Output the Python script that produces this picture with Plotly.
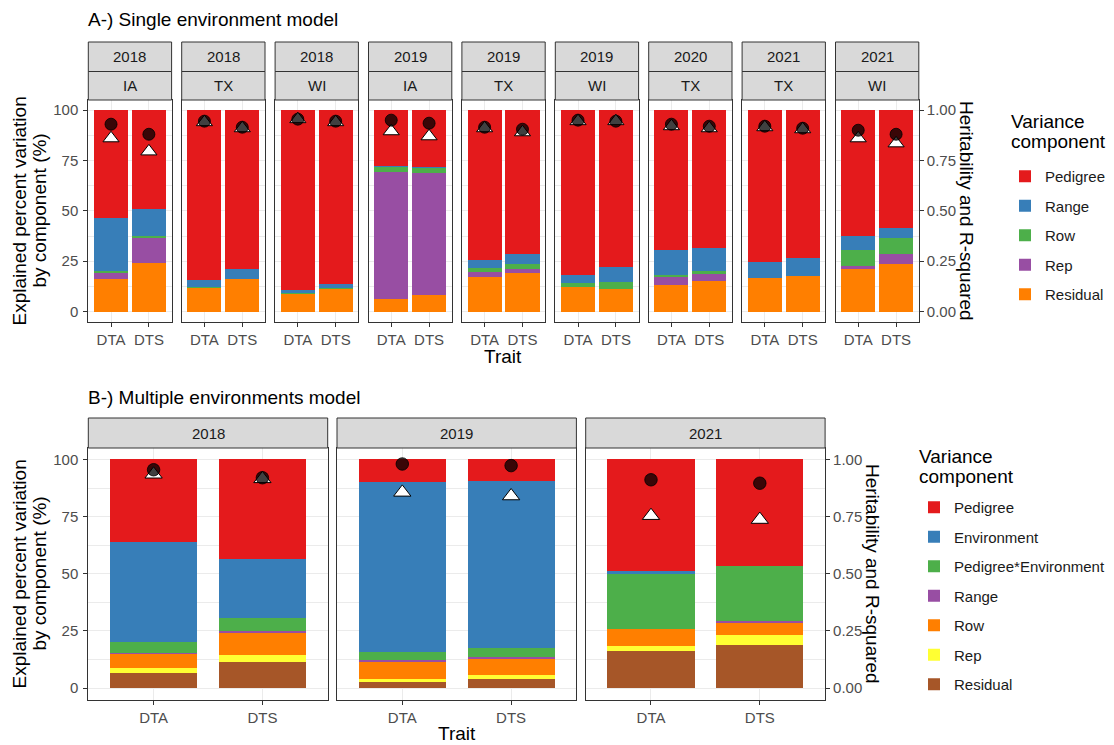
import plotly.graph_objects as go

W, H = 1114, 745
FONT = "Liberation Sans, Arial, sans-serif"

# ---------------- A-) single environment model ----------------
a_years = ["2018", "2018", "2018", "2019", "2019", "2019", "2020", "2021", "2021"]
a_sites = ["IA", "TX", "WI", "IA", "TX", "WI", "TX", "TX", "WI"]
traits = ["DTA", "DTS"]

# values per facet, ordered DTA, DTS
a_pedigree = [53.3, 49.0, 84.2, 78.7, 89.1, 86.5, 27.7, 28.3, 74.4, 71.6,
              82.0, 78.1, 69.3, 68.2, 75.2, 73.6, 62.7, 58.4]
a_range = [26.7, 13.7, 3.5, 4.9, 1.6, 2.0, 0.2, 0.2, 4.0, 4.8,
           4.0, 7.4, 12.5, 11.8, 8.0, 8.5, 6.6, 5.1]
a_row = [0.4, 0.5, 0.3, 0.1, 0.1, 0.1, 2.6, 2.5, 2.1, 2.6,
         2.0, 3.3, 1.0, 1.2, 0.1, 0.1, 8.3, 7.8]
a_rep = [3.4, 12.7, 0.0, 0.0, 0.0, 0.0, 63.2, 60.6, 2.5, 2.0,
         0.0, 0.0, 3.8, 3.5, 0.0, 0.0, 1.3, 4.9]
a_residual = [16.2, 24.1, 12.0, 16.3, 9.2, 11.4, 6.3, 8.4, 17.0, 19.0,
              12.0, 11.2, 13.4, 15.3, 16.7, 17.8, 21.1, 23.8]
a_heritability = [0.93, 0.88, 0.945, 0.915, 0.955, 0.945, 0.95, 0.935, 0.915, 0.905,
                  0.95, 0.945, 0.93, 0.92, 0.92, 0.91, 0.90, 0.88]
a_rsquared = [0.86, 0.795, 0.94, 0.91, 0.955, 0.94, 0.895, 0.87, 0.91, 0.89,
              0.945, 0.945, 0.92, 0.91, 0.915, 0.905, 0.86, 0.835]

# ---------------- B-) multiple environments model ----------------
b_years = ["2018", "2019", "2021"]
b_pedigree = [36.2, 43.4, 9.8, 9.6, 48.7, 46.7]
b_environment = [43.7, 26.0, 74.4, 72.8, 1.3, 0.0]
b_ped_env = [4.7, 5.5, 3.7, 4.0, 24.0, 24.0]
b_range = [0.5, 0.6, 0.6, 0.7, 0.0, 0.6]
b_row = [6.3, 9.9, 7.4, 7.2, 7.4, 5.6]
b_rep = [2.0, 3.0, 1.5, 1.9, 2.4, 4.2]
b_residual = [6.6, 11.6, 2.6, 3.8, 16.2, 18.9]
b_heritability = [0.955, 0.92, 0.98, 0.973, 0.911, 0.896]
b_rsquared = [0.935, 0.915, 0.856, 0.84, 0.754, 0.737]

set1 = {"red": "#E41A1C", "blue": "#377EB8", "green": "#4DAF4A", "purple": "#984EA3",
        "orange": "#FF7F00", "yellow": "#FFFF33", "brown": "#A65628"}

# stacking order: first entry sits at the bottom of each bar
a_components = [("Residual", a_residual, set1["orange"]),
                ("Rep", a_rep, set1["purple"]),
                ("Row", a_row, set1["green"]),
                ("Range", a_range, set1["blue"]),
                ("Pedigree", a_pedigree, set1["red"])]
b_components = [("Residual", b_residual, set1["brown"]),
                ("Rep", b_rep, set1["yellow"]),
                ("Row", b_row, set1["orange"]),
                ("Range", b_range, set1["purple"]),
                ("Pedigree*Environment", b_ped_env, set1["green"]),
                ("Environment", b_environment, set1["blue"]),
                ("Pedigree", b_pedigree, set1["red"])]


def fx(x):
    return x / W


def fy(y):
    return 1 - y / H


GRID = "#EBEBEB"
DARK = "#333333"
TICKTXT = dict(family=FONT, size=15, color="#4D4D4D")

# panel geometry (pixels)
top_x0, top_w, top_step = 88.3, 83.3, 93.4
top_y0, top_y1 = 100.0, 321.7
bot_x0, bot_w, bot_step = 88.3, 239.4, 248.7
bot_y0, bot_y1 = 448.0, 699.5

panels = []  # (x0, x1, y0, y1, first, last, row)
for i in range(9):
    x0 = top_x0 + i * top_step
    panels.append((x0, x0 + top_w, top_y0, top_y1, i == 0, i == 8, "a"))
for i in range(3):
    x0 = bot_x0 + i * bot_step
    panels.append((x0, x0 + bot_w, bot_y0, bot_y1, i == 0, i == 2, "b"))

fig = go.Figure()
layout = {}
shapes = []
annotations = []
NP = len(panels)

for p, (x0, x1, y0, y1, first, last, row) in enumerate(panels):
    k = p + 1
    sfx = "" if k == 1 else str(k)
    xa, ya = "x" + sfx, "y" + sfx
    ya2 = "y" + str(k + NP)

    if row == "a":
        i = p
        comps, herit, rsq, width, legend = a_components, a_heritability, a_rsquared, 0.9, "legend"
        msize_c, msize_t = 12, 14
    else:
        i = p - 9
        comps, herit, rsq, width, legend = b_components, b_heritability, b_rsquared, 0.8, "legend2"
        msize_c, msize_t = 12.5, 15
    sl = slice(2 * i, 2 * i + 2)

    n = len(comps)
    for rank, (name, vals, col) in enumerate(comps):
        fig.add_trace(go.Bar(
            x=traits, y=vals[sl], name=name, marker=dict(color=col, line=dict(width=0)),
            width=width, xaxis=xa, yaxis=ya, legend=legend,
            legendgroup=row + "_" + name, legendrank=n - rank, showlegend=(i == 0),
        ))
    fig.add_trace(go.Scatter(
        x=traits, y=rsq[sl], mode="markers", name="R-squared", showlegend=False,
        marker=dict(symbol="triangle-up", size=msize_t, color="white",
                    line=dict(color="black", width=1)),
        xaxis=xa, yaxis=ya2,
    ))
    fig.add_trace(go.Scatter(
        x=traits, y=herit[sl], mode="markers", name="Heritability", showlegend=False,
        marker=dict(symbol="circle", size=msize_c, color="rgba(0,0,0,0.75)",
                    line=dict(color="black", width=0.8)),
        xaxis=xa, yaxis=ya2,
    ))

    layout["xaxis" + sfx] = dict(
        domain=[fx(x0), fx(x1)], anchor=ya, type="category",
        categoryorder="array", categoryarray=traits, range=[-0.6, 1.6],
        showgrid=True, gridcolor=GRID, gridwidth=1.1,
        ticks="outside", ticklen=4, tickwidth=1, tickcolor=DARK, tickfont=TICKTXT,
        showline=True, linecolor=DARK, linewidth=1, mirror=True, zeroline=False,
    )
    layout["yaxis" + sfx] = dict(
        domain=[fy(y1), fy(y0)], anchor=xa, range=[-5, 105],
        tickvals=[0, 25, 50, 75, 100], showticklabels=first,
        ticks="outside" if first else "", ticklen=4, tickwidth=1, tickcolor=DARK,
        tickfont=TICKTXT, ticklabelstandoff=2,
        showgrid=True, gridcolor=GRID, gridwidth=1.1,
        minor=dict(tickvals=[12.5, 37.5, 62.5, 87.5], showgrid=True,
                   gridcolor=GRID, gridwidth=0.55),
        showline=True, linecolor=DARK, linewidth=1, mirror=True, zeroline=False,
    )
    layout["yaxis" + str(k + NP)] = dict(
        overlaying=ya, anchor=xa, side="right", range=[-0.05, 1.05],
        tickvals=[0, 0.25, 0.5, 0.75, 1.0], tickformat=".2f",
        showticklabels=last, ticks="outside" if last else "", ticklen=4,
        tickwidth=1, tickcolor=DARK, tickfont=TICKTXT,
        showgrid=False, zeroline=False, showline=False,
    )

# facet strips
STRIP = dict(type="rect", xref="paper", yref="paper", fillcolor="#D9D9D9",
             line=dict(color=DARK, width=1), layer="above")
STRIP_FONT = dict(family=FONT, size=15, color="#1A1A1A")


def note(x, y, text, font, angle=0, xanchor="center", yanchor="middle"):
    annotations.append(dict(x=fx(x), y=fy(y), text=text, showarrow=False, font=font,
                            textangle=angle, xanchor=xanchor, yanchor=yanchor,
                            xref="paper", yref="paper"))


for p in range(9):
    x0, x1 = panels[p][0], panels[p][1]
    for (s0, s1), label in (((42, 71.5), a_years[p]), ((71.5, 100), a_sites[p])):
        shapes.append(dict(STRIP, x0=fx(x0), x1=fx(x1), y0=fy(s1), y1=fy(s0)))
        note((x0 + x1) / 2, (s0 + s1) / 2, label, STRIP_FONT)
for j in range(3):
    x0, x1 = panels[9 + j][0], panels[9 + j][1]
    shapes.append(dict(STRIP, x0=fx(x0), x1=fx(x1), y0=fy(448), y1=fy(418)))
    note((x0 + x1) / 2, 433, b_years[j], STRIP_FONT)

TITLE_FONT = dict(family=FONT, size=19, color="black")
AXT_FONT = dict(family=FONT, size=19, color="black")

note(86, 20, "A-) Single environment model", TITLE_FONT, xanchor="left")
note(86, 397, "B-) Multiple environments model", TITLE_FONT, xanchor="left")
note(503, 356, "Trait", AXT_FONT)
note(457, 733, "Trait", AXT_FONT)
for yc in (211, 574):
    note(18.5, yc, "Explained percent variation", AXT_FONT, angle=-90)
    note(38.5, yc, "by component (%)", AXT_FONT, angle=-90)
note(967, 211, "Heritability and R-squared", AXT_FONT, angle=90)
note(873, 574, "Heritability and R-squared", AXT_FONT, angle=90)

# legend headings
for x, y1, y2 in ((1009, 121.5, 141.5), (917, 456.5, 476.5)):
    note(x, y1, "Variance", AXT_FONT, xanchor="left")
    note(x, y2, "component", AXT_FONT, xanchor="left")

LEG = dict(xanchor="left", yanchor="top", traceorder="grouped",
           tracegroupgap=7, bgcolor="rgba(0,0,0,0)", itemwidth=30,
           font=dict(family=FONT, size=15, color="#1A1A1A"))
layout["legend"] = dict(LEG, x=fx(1005), y=fy(160))
layout["legend2"] = dict(LEG, x=fx(914), y=fy(491))

fig.update_layout(
    width=W, height=H, autosize=False,
    margin=dict(l=0, r=0, t=0, b=0, autoexpand=False),
    paper_bgcolor="white", plot_bgcolor="white",
    barmode="stack", font=dict(family=FONT),
    shapes=shapes, annotations=annotations, **layout,
)

fig.write_html("out.html")
